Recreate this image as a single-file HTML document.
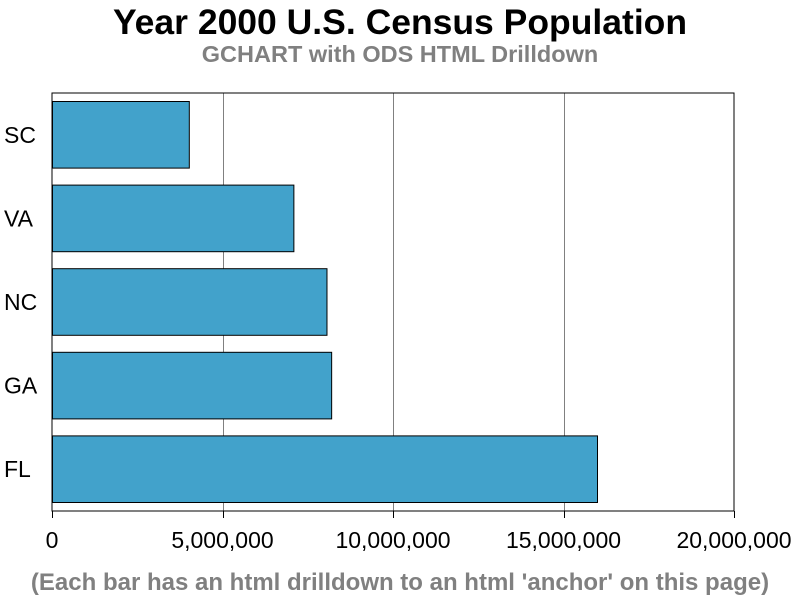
<!DOCTYPE html>
<html><head><meta charset="utf-8"><style>
body{margin:0;background:#fff;font-family:"Liberation Sans",Arial,sans-serif}
</style></head><body>
<svg id="chart" width="800" height="600" xmlns="http://www.w3.org/2000/svg" font-family="Liberation Sans, Arial, sans-serif">
<rect width="800" height="600" fill="#fff"/>
<text x="400" y="34" text-anchor="middle" font-size="35.5" font-weight="bold" fill="#000">Year 2000 U.S. Census Population</text>
<text x="400" y="62" text-anchor="middle" font-size="23.5" font-weight="bold" fill="#808080">GCHART with ODS HTML Drilldown</text>
<text x="400" y="590" text-anchor="middle" font-size="24" font-weight="bold" fill="#808080">(Each bar has an html drilldown to an html 'anchor' on this page)</text>
<g id="grid"></g>
<g id="bars"></g>
<rect x="52" y="93" width="682" height="418" fill="none" stroke="#000" stroke-width="1"/>
<g id="xaxis"></g>
<g id="yaxis"></g>
</svg>
<script>
const categories=["SC","VA","NC","GA","FL"];
const values=[4012012,7078515,8049313,8186453,15982378];
const ticks=[0,5000000,10000000,15000000,20000000];
const tickLabels=["0","5,000,000","10,000,000","15,000,000","20,000,000"];
const NS="http://www.w3.org/2000/svg";
const L=52,R=734,T=93,B=511,MAX=20000000;
const x=v=>L+(v/MAX)*(R-L);
const band=(B-T)/categories.length;
function mk(t,a,p){const e=document.createElementNS(NS,t);for(const k in a)e.setAttribute(k,a[k]);p.appendChild(e);return e;}
const grid=document.getElementById('grid'),bars=document.getElementById('bars'),xa=document.getElementById('xaxis'),ya=document.getElementById('yaxis');
ticks.forEach((t,i)=>{
  const gx=Math.round(x(t))+0.5;
  if(i>0&&i<ticks.length-1){const g=mk('line',{x1:gx,x2:gx,y1:T,y2:B,stroke:'#808080','stroke-width':1},grid);
  
  }
  const tk=mk('line',{x1:gx,x2:gx,y1:B,y2:B+7,stroke:'#000'},xa);
  
  
  const lb=mk('text',{x:x(t),y:B+37,'text-anchor':'middle','font-size':23,fill:'#000'},xa);
  lb.textContent=tickLabels[i];
  
  
});
categories.forEach((c,i)=>{
  const y0=T+i*band+8;
  const r=mk('rect',{x:L+0.5,y:y0+0.5,width:x(values[i])-L,height:band-17,fill:'#42a2cb',stroke:'#000','stroke-width':1},bars);
  
  
  const lb=mk('text',{x:4,y:T+i*band+band/2+8,'font-size':23,fill:'#000'},ya);
  lb.textContent=c;
  
  
});
</script>
</body></html>
